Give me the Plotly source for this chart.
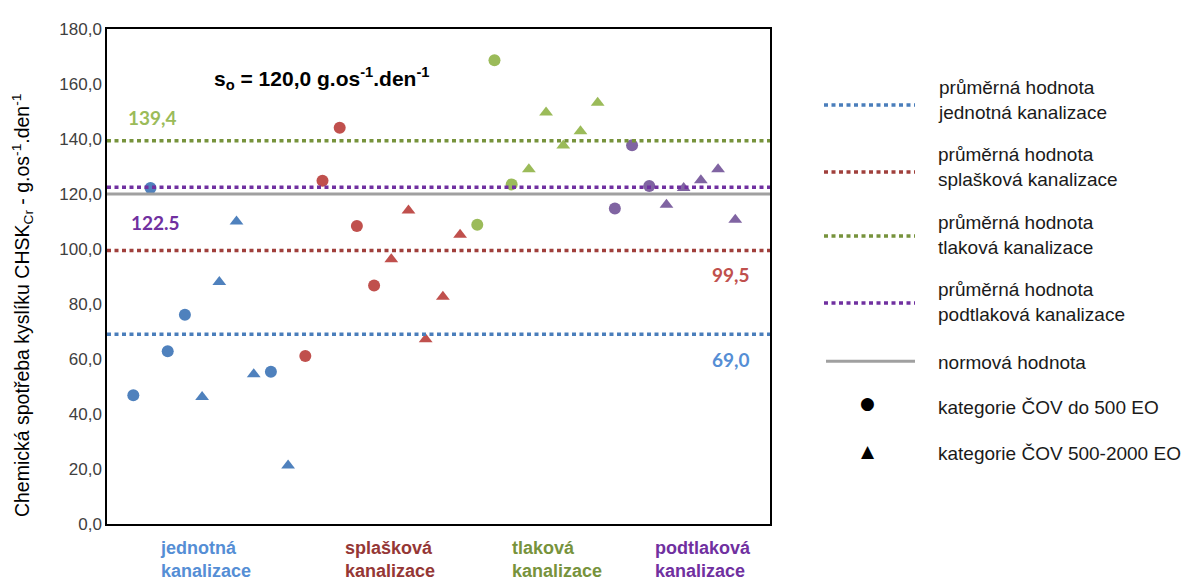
import plotly.graph_objects as go

# ---------------- data ----------------
groups = ["jednotná kanalizace", "splašková kanalizace", "tlaková kanalizace", "podtlaková kanalizace"]
group_labels = ["jednotná<br>kanalizace", "splašková<br>kanalizace", "tlaková<br>kanalizace", "podtlaková<br>kanalizace"]

jedn_circle_idx = [1, 2, 3, 4, 9]
jedn_circle_val = [46.8, 122.2, 62.8, 76.1, 55.4]
jedn_tri_idx = [5, 6, 7, 8, 10]
jedn_tri_val = [46.2, 88.0, 110.0, 54.5, 21.3]

spl_circle_idx = [11, 12, 13, 14, 15]
spl_circle_val = [61.1, 124.8, 144.1, 108.4, 86.7]
spl_tri_idx = [16, 17, 18, 19, 20]
spl_tri_val = [96.3, 114.0, 67.2, 82.6, 105.2]

tlak_circle_idx = [21, 22, 23]
tlak_circle_val = [108.8, 168.6, 123.5]
tlak_tri_idx = [24, 25, 26, 27, 28]
tlak_tri_val = [129.0, 149.6, 137.6, 142.8, 153.2]

podt_circle_idx = [29, 30, 31]
podt_circle_val = [114.7, 137.7, 122.9]
podt_tri_idx = [32, 33, 34, 35, 36]
podt_tri_val = [116.1, 122.2, 125.0, 129.0, 110.6]

mean_values = [69.0, 99.5, 139.4, 122.5]
mean_labels = ["69,0", "99,5", "139,4", "122.5"]
norm_value = 120.0

y_ticks = [0, 20, 40, 60, 80, 100, 120, 140, 160, 180]

legend_texts = [
    "průměrná hodnota<br>jednotná kanalizace",
    "průměrná hodnota<br>splašková kanalizace",
    "průměrná hodnota<br>tlaková kanalizace",
    "průměrná hodnota<br>podtlaková kanalizace",
    "normová hodnota",
    "kategorie ČOV do 500 EO",
    "kategorie ČOV 500-2000 EO",
]

# ---------------- styles ----------------
point_colors = ["#4F81BD", "#C0504D", "#9BBB59", "#8064A2"]
line_colors = ["#4A7EBB", "#A0403C", "#77933C", "#7030A0"]
label_colors = ["#558ED5", "#C0504D", "#9BBB59", "#7030A0"]
cat_colors = ["#558ED5", "#953735", "#77933C", "#7030A0"]
norm_color = "#A0A0A0"
DOT = "4px,3.5px"

# page body has an 8px margin; work in reference-pixel space and shift
OFF = 8
W, H = 1192 - OFF, 581 - OFF
PLOT_L, PLOT_R, PLOT_T, PLOT_B = 107, 770, 22, 524  # reference pixels
L = PLOT_L - OFF
T = PLOT_T - OFF
R = W - (PLOT_R - OFF)
B = H - (PLOT_B - OFF)
PW, PH = PLOT_R - PLOT_L, PLOT_B - PLOT_T


def px(x):
    return (x - PLOT_L) / PW


def py(y):
    return (PLOT_B - y) / PH


fig = go.Figure()

series = [
    (jedn_circle_idx, jedn_circle_val, jedn_tri_idx, jedn_tri_val),
    (spl_circle_idx, spl_circle_val, spl_tri_idx, spl_tri_val),
    (tlak_circle_idx, tlak_circle_val, tlak_tri_idx, tlak_tri_val),
    (podt_circle_idx, podt_circle_val, podt_tri_idx, podt_tri_val),
]

for g, (ci, cv, ti, tv) in enumerate(series):
    fig.add_trace(go.Scatter(x=ci, y=cv, mode="markers", name=groups[g] + " do 500 EO",
                             marker=dict(symbol="circle", size=12, color=point_colors[g]),
                             showlegend=False))
    fig.add_trace(go.Scatter(x=ti, y=tv, mode="markers", name=groups[g] + " 500-2000 EO",
                             marker=dict(symbol="triangle-up", size=12, color=point_colors[g]),
                             showlegend=False))

shapes = []
shapes.append(dict(type="line", xref="x domain", yref="y", x0=0, x1=1, y0=norm_value, y1=norm_value,
                   line=dict(color=norm_color, width=3), layer="above"))
for g, m in enumerate(mean_values):
    shapes.append(dict(type="line", xref="x domain", yref="y", x0=0, x1=1, y0=m, y1=m,
                       line=dict(color=line_colors[g], width=3.5, dash=DOT), layer="above"))

annotations = []
label_pos = [
    dict(x=px(752), y=mean_values[0], yshift=-25, xanchor="right"),
    dict(x=px(752), y=mean_values[1], yshift=-24, xanchor="right"),
    dict(x=px(126), y=mean_values[2], yshift=23, xanchor="left"),
    dict(x=px(129), y=mean_values[3], yshift=-35, xanchor="left"),
]
for g, p in enumerate(label_pos):
    annotations.append(dict(x=p["x"], xref="paper", y=p["y"], yref="y", yshift=p["yshift"],
                            xanchor=p["xanchor"], yanchor="middle", showarrow=False,
                            text="<b>" + mean_labels[g] + "</b>",
                            font=dict(family="Lato, Carlito, sans-serif", size=19, color=label_colors[g])))

annotations.append(dict(x=px(212), y=py(72), xref="paper", yref="paper", xanchor="left", yanchor="middle",
                        showarrow=False,
                        text="<b>s<sub>o</sub> = 120,0 g.os<sup>-1</sup>.den<sup>-1</sup></b>",
                        font=dict(family="Liberation Sans, Arial, sans-serif", size=21, color="#000000")))

# y axis title
annotations.append(dict(x=px(22), y=py(303), xref="paper", yref="paper", xanchor="center", yanchor="middle",
                        textangle=-90, showarrow=False,
                        text="Chemická spotřeba kyslíku CHSK<sub>Cr</sub> - g.os<sup>-1</sup>.den<sup>-1</sup>",
                        font=dict(family="Liberation Sans, Arial, sans-serif", size=19.5, color="#000000")))

cat_left = [158, 343, 510, 653]
for g, lab in enumerate(group_labels):
    annotations.append(dict(x=px(cat_left[g]), y=py(560), xref="paper", yref="paper",
                            xanchor="left", yanchor="middle", align="left", showarrow=False,
                            text="<b>" + lab + "</b>",
                            font=dict(family="Liberation Sans, Arial, sans-serif", size=18,
                                      color=cat_colors[g])))

leg_y = [99, 167, 232, 300, 359, 405, 453]
leg_text_y = [94, 162, 231, 299, 360, 406, 453]
for i in range(4):
    shapes.append(dict(type="line", xref="paper", yref="paper", x0=px(824), x1=px(915),
                       y0=py(leg_y[i]), y1=py(leg_y[i]),
                       line=dict(color=line_colors[i], width=3.5, dash=DOT)))
shapes.append(dict(type="line", xref="paper", yref="paper", x0=px(826), x1=px(915),
                   y0=py(leg_y[4]), y1=py(leg_y[4]), line=dict(color=norm_color, width=3)))
annotations.append(dict(x=px(877), y=py(leg_y[5]), yshift=-8, xref="paper", yref="paper", showarrow=False,
                        text="●", font=dict(size=17, color="#000000", family="DejaVu Sans")))
annotations.append(dict(x=px(877), y=py(leg_y[6]), yshift=-9, xref="paper", yref="paper", showarrow=False,
                        text="▲", font=dict(size=17, color="#000000", family="DejaVu Sans")))
for i, t in enumerate(legend_texts):
    annotations.append(dict(x=px(936), y=py(leg_text_y[i]), xref="paper", yref="paper",
                            xanchor="left", yanchor="middle", align="left", showarrow=False,
                            text=t,
                            font=dict(family="Liberation Sans, Arial, sans-serif", size=19, color="#1a1a1a")))

fig.update_layout(
    width=W, height=H,
    margin=dict(l=L, r=R, t=T, b=B),
    paper_bgcolor="white", plot_bgcolor="white",
    separators=",.",
    showlegend=False,
    shapes=shapes,
    annotations=annotations,
    font=dict(family="Liberation Sans, Arial, sans-serif"),
)
fig.update_xaxes(range=[-0.53, 38.02], showticklabels=False, ticks="", showgrid=False, zeroline=False,
                 showline=True, linecolor="#000000", linewidth=1.5, mirror=True)
fig.update_yaxes(range=[0, 180], tickvals=y_ticks, tickformat=".1f", showgrid=False, zeroline=False,
                 showline=True, linecolor="#000000", linewidth=1.5, mirror=True, ticks="",
                 tickfont=dict(family="Liberation Sans, Arial, sans-serif", size=17, color="#404040"))

fig.write_html("out.html")
